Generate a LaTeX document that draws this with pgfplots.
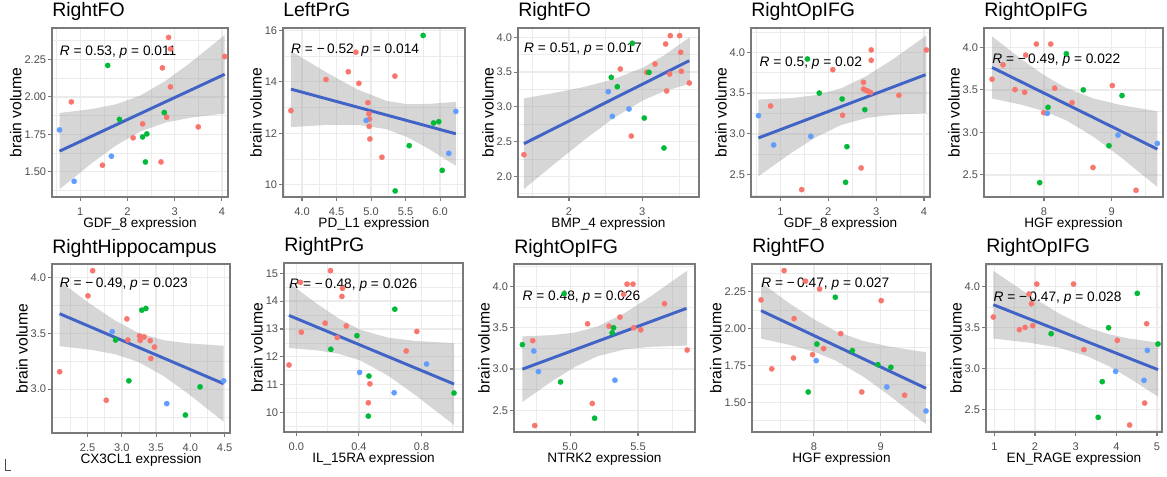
\documentclass[border=0pt]{standalone}
\usepackage{fontspec}
\setmainfont{Liberation Sans}
\usepackage{pgfplots}
\pgfplotsset{compat=1.18}
\definecolor{pR}{HTML}{F8766D}
\definecolor{pG}{HTML}{00BA38}
\definecolor{pB}{HTML}{619CFF}
\definecolor{lineB}{HTML}{4163C6}
\definecolor{bandc}{HTML}{999999}
\definecolor{gridc}{HTML}{EBEBEB}
\definecolor{framec}{HTML}{7A7A7A}
\definecolor{tickt}{HTML}{4D4D4D}
\pgfplotsset{
  panel/.style={
    scale only axis, anchor=south west,
    axis line style={draw=framec, line width=0.8pt},
    grid=both,
    major grid style={draw=gridc, line width=1.0pt},
    minor grid style={draw=gridc, line width=0.5pt},
    tick align=outside, tick pos=left,
    major tick length=2.75pt, minor tick length=0pt,
    tick style={draw=framec, line width=0.8pt},
    tick label style={font=\fontsize{8.3}{9}\selectfont, text=tickt},
    xticklabel style={inner sep=1.5pt, yshift=-3.5pt},
    yticklabel style={inner sep=1.5pt},
    xlabel style={font=\fontsize{10.2}{12}\selectfont, inner sep=0pt},
    ylabel style={font=\fontsize{11.8}{13}\selectfont, inner sep=0.5pt},
    ylabel={brain volume},
    title style={at={(0,1)}, anchor=base west, yshift=2.25pt, font=\fontsize{14.6}{16}\selectfont, inner sep=0pt},
    /pgf/number format/assume math mode=true,
  },
  pts/.style={only marks, mark=*, mark size=2pt, mark options={line width=0.2pt}},
  fitline/.style={lineB, line width=2.2pt},
  bandfill/.style={fill=bandc, fill opacity=0.4, draw=none},
}
\newcommand{\annot}[3]{\node[anchor=base west, inner sep=0pt, font=\fontsize{10.3}{12}\selectfont] at (axis cs:#1,#2) {#3};}
\begin{document}
\begin{tikzpicture}
\path[use as bounding box] (0pt,0pt) rectangle (875.25pt,-357.75pt);
\draw[black!70, line width=0.75pt] (4pt,-344pt) -- (4pt,-352.5pt) -- (8pt,-352.5pt);

% ---------------- Panel 1 ----------------
\begin{axis}[panel, at={(39pt,-147.75pt)}, width=132pt, height=126.75pt,
  xmin=0.40, xmax=4.13, ymin=1.332, ymax=2.46,
  xtick={1,2,3,4}, xticklabels={1,2,3,4}, minor xtick={0.5,1.5,2.5,3.5},
  ytick={1.5,1.75,2,2.25}, yticklabels={1.50,1.75,2.00,2.25}, minor ytick={1.375,1.625,1.875,2.125,2.375},
  title={RightFO}, xlabel={GDF\_8 expression}]
\addplot[pts, pR] coordinates {(0.81,1.967) (1.47,1.544) (2.12,1.727) (2.32,1.82) (2.71,1.566) (2.74,2.194) (2.87,2.397) (2.91,2.321) (2.91,2.067) (2.83,1.865) (3.50,1.80) (4.06,2.27)};
\addplot[pts, pG] coordinates {(1.58,2.21) (1.83,1.85) (2.32,1.733) (2.41,1.753) (2.38,1.566) (2.78,1.896)};
\addplot[pts, pB] coordinates {(0.56,1.78) (0.87,1.437) (1.66,1.604)};
\addplot[bandfill] coordinates {(0.56,1.893) (1.244,1.919) (1.757,1.951) (2.27,2.009) (2.807,2.107) (3.344,2.231) (4.06,2.413)
  (4.06,1.889) (3.344,1.862) (2.807,1.829) (2.27,1.769) (1.757,1.676) (1.244,1.558) (0.56,1.384)} -- cycle;
\addplot[fitline] coordinates {(0.56,1.638) (4.06,2.151)};
\annot{0.56}{2.277}{\textit{R} = 0.53, \textit{p} = 0.011}
\end{axis}

% ---------------- Panel 2 ----------------
\begin{axis}[panel, at={(212.25pt,-147.75pt)}, width=136.5pt, height=126.75pt,
  xmin=3.725, xmax=6.36, ymin=9.525, ymax=16.09,
  xtick={4,4.5,5,5.5,6}, xticklabels={4.0,4.5,5.0,5.5,6.0}, minor xtick={3.75,4.25,4.75,5.25,5.75,6.25},
  ytick={10,12,14,16}, yticklabels={10,12,14,16}, minor ytick={11,13,15},
  title={LeftPrG}, xlabel={PD\_L1 expression}]
\addplot[pts, pR] coordinates {(3.84,12.88) (4.347,14.09) (4.67,14.39) (4.78,15.15) (4.824,13.94) (4.954,13.19) (4.969,12.76) (4.978,12.55) (4.973,12.27) (4.983,11.78) (5.157,11.07) (5.345,14.22)};
\addplot[pts, pG] coordinates {(5.754,15.80) (5.552,11.52) (5.349,9.76) (5.904,12.40) (5.98,12.45) (6.03,10.56)};
\addplot[pts, pB] coordinates {(4.93,12.50) (6.227,12.85) (6.125,11.22)};
\addplot[bandfill] coordinates {(3.84,15.19) (4.393,14.30) (4.807,13.70) (5.222,13.26) (5.524,13.13) (5.825,13.14) (6.227,13.22)
  (6.227,10.74) (5.825,11.41) (5.524,11.85) (5.222,12.16) (4.807,12.33) (4.393,12.33) (3.84,12.24)} -- cycle;
\addplot[fitline] coordinates {(3.84,13.715) (6.227,11.98)};
\annot{3.84}{15.11}{\textit{R} = −\,0.52, \textit{p} = 0.014}
\end{axis}

% ---------------- Panel 3 ----------------
\begin{axis}[panel, at={(388.5pt,-147.75pt)}, width=135.75pt, height=126.75pt,
  xmin=1.305, xmax=3.773, ymin=1.703, ymax=4.134,
  xtick={2,3}, xticklabels={2,3}, minor xtick={1.5,2.5,3.5},
  ytick={2,2.5,3,3.5,4}, yticklabels={2.0,2.5,3.0,3.5,4.0}, minor ytick={1.75,2.25,2.75,3.25,3.75},
  title={RightFO}, xlabel={BMP\_4 expression}]
\addplot[pts, pR] coordinates {(1.386,2.312) (2.70,3.544) (2.85,2.58) (3.059,3.496) (3.173,3.616) (3.318,3.904) (3.382,4.024) (3.509,4.024) (3.332,3.228) (3.373,3.472) (3.523,3.784) (3.532,3.511) (3.641,3.343)};
\addplot[pts, pG] coordinates {(2.577,3.424) (2.659,3.29) (2.864,3.914) (3.027,2.839) (3.091,3.496) (3.295,2.408)};
\addplot[pts, pB] coordinates {(2.536,3.218) (2.591,2.863) (2.818,2.969)};
\addplot[bandfill] coordinates {(1.386,3.122) (1.8,3.200) (2.2,3.285) (2.6,3.394) (3.011,3.565) (3.3,3.742) (3.65,4.004)
  (3.65,3.334) (3.3,3.224) (3.011,3.095) (2.6,2.832) (2.2,2.517) (1.8,2.178) (1.386,1.818)} -- cycle;
\addplot[fitline] coordinates {(1.386,2.47) (3.641,3.664)};
\annot{1.386}{3.784}{\textit{R} = 0.51, \textit{p} = 0.017}
\end{axis}

% ---------------- Panel 4 ----------------
\begin{axis}[panel, at={(563.25pt,-147.75pt)}, width=134.25pt, height=126.75pt,
  xmin=0.386, xmax=4.126, ymin=2.226, ymax=4.298,
  xtick={1,2,3,4}, xticklabels={1,2,3,4}, minor xtick={0.5,1.5,2.5,3.5},
  ytick={2.5,3,3.5,4}, yticklabels={2.5,3.0,3.5,4.0}, minor ytick={2.25,2.75,3.25,3.75,4.25},
  title={RightOpIFG}, xlabel={GDF\_8 expression}]
\addplot[pts, pR] coordinates {(0.795,3.342) (1.445,2.316) (2.094,3.787) (2.299,3.228) (2.687,2.582) (2.736,3.632) (2.736,3.55) (2.786,3.534) (2.835,3.522) (2.884,3.506) (2.898,4.029) (2.898,3.902) (3.477,3.473) (4.049,4.029)};
\addplot[pts, pG] coordinates {(1.565,3.918) (1.812,3.50) (2.29,3.428) (2.39,2.843) (2.362,2.406) (2.764,3.297)};
\addplot[pts, pB] coordinates {(0.541,3.224) (0.859,2.864) (1.635,2.970)};
\addplot[bandfill] coordinates {(0.541,3.42) (1.233,3.438) (1.751,3.476) (2.27,3.559) (2.804,3.711) (3.338,3.909) (4.05,4.206)
  (4.05,3.254) (3.338,3.234) (2.804,3.195) (2.27,3.109) (1.751,2.962) (1.233,2.769) (0.541,2.48)} -- cycle;
\addplot[fitline] coordinates {(0.541,2.95) (4.034,3.726)};
\annot{0.56}{3.828}{\textit{R} = 0.5, \textit{p} = 0.02}
\end{axis}

% ---------------- Panel 5 ----------------
\begin{axis}[panel, at={(738pt,-147.75pt)}, width=134.25pt, height=126.75pt,
  xmin=7.113, xmax=9.759, ymin=2.24, ymax=4.228,
  xtick={8,9}, xticklabels={8,9}, minor xtick={7.5,8.5,9.5},
  ytick={2.5,3,3.5,4}, yticklabels={2.5,3.0,3.5,4.0}, minor ytick={2.25,2.75,3.25,3.75},
  title={RightOpIFG}, xlabel={HGF expression}]
\addplot[pts, pR] coordinates {(7.232,3.626) (7.394,3.795) (7.571,3.504) (7.714,3.472) (7.729,3.909) (7.887,4.039) (8.099,4.039) (8.158,3.52) (7.995,3.232) (8.414,3.35) (9.01,3.551) (8.724,2.587) (9.36,2.319)};
\addplot[pts, pG] coordinates {(8.33,3.925) (8.059,3.295) (7.936,2.409) (8.581,3.50) (9.153,3.433) (8.96,2.843)};
\addplot[pts, pB] coordinates {(8.049,3.224) (9.094,2.968) (9.675,2.87)};
\addplot[bandfill] coordinates {(7.232,4.13) (7.669,3.859) (7.996,3.675) (8.324,3.524) (8.729,3.40) (9.135,3.322) (9.675,3.248)
  (9.675,2.358) (9.135,2.708) (8.729,2.95) (8.324,3.144) (7.996,3.251) (7.669,3.325) (7.232,3.398)} -- cycle;
\addplot[fitline] coordinates {(7.232,3.764) (9.675,2.803)};
\annot{7.232}{3.815}{\textit{R} = −\,0.49, \textit{p} = 0.022}
\end{axis}

% ---------------- Panel 6 ----------------
\begin{axis}[panel, at={(39pt,-324.75pt)}, width=133.5pt, height=126.75pt,
  xmin=1.98, xmax=4.578, ymin=2.608, ymax=4.12,
  xtick={2.5,3,3.5,4,4.5}, xticklabels={2.5,3.0,3.5,4.0,4.5}, minor xtick={2.25,2.75,3.25,3.75,4.25},
  ytick={3,3.5,4}, yticklabels={3.0,3.5,4.0}, minor ytick={2.75,3.25,3.75},
  title={RightHippocampus}, xlabel={CX3CL1 expression}]
\addplot[pts, pR] coordinates {(2.092,3.156) (2.505,3.835) (2.573,4.06) (2.772,2.901) (3.073,3.629) (3.087,3.44) (3.257,3.476) (3.267,3.437) (3.325,3.467) (3.413,3.434) (3.476,3.377) (3.422,3.275)};
\addplot[pts, pG] coordinates {(2.908,3.44) (3.102,3.075) (3.291,3.707) (3.35,3.722) (3.927,2.769) (4.141,3.021)};
\addplot[pts, pB] coordinates {(2.859,3.515) (3.655,2.871) (4.485,3.075)};
\addplot[bandfill] coordinates {(2.092,3.965) (2.55,3.758) (2.894,3.617) (3.237,3.505) (3.611,3.438) (3.986,3.409) (4.485,3.389)
  (4.485,2.709) (3.986,2.951) (3.611,3.117) (3.237,3.245) (2.894,3.314) (2.55,3.352) (2.092,3.385)} -- cycle;
\addplot[fitline] coordinates {(2.092,3.675) (4.485,3.049)};
\annot{2.092}{3.91}{\textit{R} = −\,0.49, \textit{p} = 0.023}
\end{axis}

% ---------------- Panel 7 ----------------
\begin{axis}[panel, at={(213pt,-324pt)}, width=134.25pt, height=126.75pt,
  xmin=-0.079, xmax=1.065, ymin=9.30, ymax=15.37,
  xtick={0,0.4,0.8}, xticklabels={0.0,0.4,0.8}, minor xtick={0.2,0.6,1.0},
  ytick={10,11,12,13,14,15}, yticklabels={10,11,12,13,14,15}, minor ytick={9.5,10.5,11.5,12.5,13.5,14.5},
  title={RightPrG}, xlabel={IL\_15RA expression}]
\addplot[pts, pR] coordinates {(-0.047,11.707) (0.0257,14.675) (0.032,12.885) (0.218,15.096) (0.184,13.21) (0.261,12.69) (0.295,14.46) (0.291,14.17) (0.319,13.11) (0.47,11.03) (0.46,10.35) (0.702,12.21) (0.77,12.91)};
\addplot[pts, pG] coordinates {(0.22,12.27) (0.387,12.76) (0.464,11.31) (0.46,9.87) (0.629,13.71) (1.0075,10.70)};
\addplot[pts, pB] coordinates {(0.404,11.44) (0.625,10.71) (0.832,11.74)};
\addplot[bandfill] coordinates {(-0.047,14.656) (0.1356,13.888) (0.2726,13.37) (0.4095,12.969) (0.5889,12.685) (0.7683,12.566) (1.0075,12.492)
  (1.0075,9.552) (0.7683,10.594) (0.5889,11.314) (0.4095,11.869) (0.2726,12.108) (0.1356,12.23) (-0.047,12.316)} -- cycle;
\addplot[fitline] coordinates {(-0.047,13.486) (1.0075,11.022)};
\annot{-0.047}{14.47}{\textit{R} = −\,0.48, \textit{p} = 0.026}
\end{axis}

% ---------------- Panel 8 ----------------
\begin{axis}[panel, at={(385.5pt,-324pt)}, width=135.75pt, height=126pt,
  xmin=4.586, xmax=5.92, ymin=2.236, ymax=4.273,
  xtick={5,5.5}, xticklabels={5.0,5.5}, minor xtick={4.75,5.25,5.75},
  ytick={2.5,3,3.5,4}, yticklabels={2.5,3.0,3.5,4.0}, minor ytick={2.25,2.75,3.25,3.75,4.25},
  title={RightOpIFG}, xlabel={NTRK2 expression}]
\addplot[pts, pR] coordinates {(4.724,3.344) (4.739,2.314) (5.128,3.548) (5.163,2.582) (5.286,3.519) (5.367,3.629) (5.394,3.906) (5.419,4.029) (5.463,4.029) (5.468,3.50) (5.52,3.475) (5.695,3.792) (5.862,3.23)};
\addplot[pts, pG] coordinates {(4.648,3.295) (4.929,2.843) (4.956,3.914) (5.18,2.403) (5.32,3.50) (5.31,3.438)};
\addplot[pts, pB] coordinates {(4.732,3.218) (4.766,2.969) (5.33,2.864)};
\addplot[bandfill] coordinates {(4.648,3.395) (4.869,3.411) (5.034,3.442) (5.2,3.514) (5.399,3.675) (5.597,3.885) (5.862,4.192)
  (5.862,3.284) (5.597,3.269) (5.399,3.237) (5.2,3.154) (5.034,3.024) (4.869,2.855) (4.648,2.601)} -- cycle;
\addplot[fitline] coordinates {(4.648,2.998) (5.857,3.735)};
\annot{4.648}{3.825}{\textit{R} = 0.48, \textit{p} = 0.026}
\end{axis}

% ---------------- Panel 9 ----------------
\begin{axis}[panel, at={(564pt,-324pt)}, width=134.25pt, height=126pt,
  xmin=7.075, xmax=9.75, ymin=1.298, ymax=2.44,
  xtick={8,9}, xticklabels={8,9}, minor xtick={7.5,8.5,9.5},
  ytick={1.5,1.75,2,2.25}, yticklabels={1.50,1.75,2.00,2.25}, minor ytick={1.375,1.625,1.875,2.125,2.375},
  title={RightFO}, xlabel={HGF expression}]
\addplot[pts, pR] coordinates {(7.21,2.196) (7.555,2.395) (7.875,2.323) (8.085,2.27) (9.005,2.191) (7.705,2.069) (8.40,1.967) (8.145,1.865) (7.98,1.824) (7.695,1.801) (7.37,1.727) (8.715,1.57) (9.355,1.548)};
\addplot[pts, pG] coordinates {(8.32,2.214) (8.045,1.896) (8.575,1.851) (8.955,1.756) (9.15,1.738) (7.915,1.57)};
\addplot[pts, pB] coordinates {(8.035,1.783) (9.09,1.604) (9.675,1.441)};
\addplot[bandfill] coordinates {(7.21,2.313) (7.656,2.166) (7.99,2.067) (8.324,1.984) (8.729,1.918) (9.135,1.878) (9.675,1.84)
  (9.675,1.351) (9.135,1.544) (8.729,1.677) (8.324,1.784) (7.99,1.845) (7.656,1.888) (7.21,1.933)} -- cycle;
\addplot[fitline] coordinates {(7.21,2.123) (9.675,1.595)};
\annot{7.21}{2.277}{\textit{R} = −\,0.47, \textit{p} = 0.027}
\end{axis}

% ---------------- Panel 10 ----------------
\begin{axis}[panel, at={(739.5pt,-324pt)}, width=132pt, height=126pt,
  xmin=0.795, xmax=5.123, ymin=2.229, ymax=4.272,
  xtick={1,2,3,4,5}, xticklabels={1,2,3,4,5}, minor xtick={1.5,2.5,3.5,4.5},
  ytick={2.5,3,3.5,4}, yticklabels={2.5,3.0,3.5,4.0}, minor ytick={2.25,2.75,3.25,3.75,4.25},
  title={RightOpIFG}, xlabel={EN\_RAGE expression}]
\addplot[pts, pR] coordinates {(0.975,3.627) (1.616,3.473) (1.756,3.501) (1.945,3.522) (1.854,3.907) (1.912,3.789) (2.043,4.028) (2.947,4.028) (3.201,3.23) (4.023,3.343) (4.326,2.314) (4.745,3.546) (4.696,2.581)};
\addplot[pts, pG] coordinates {(2.396,3.424) (3.809,3.497) (3.653,2.841) (3.554,2.407) (4.515,3.915) (5.025,3.299)};
\addplot[pts, pB] coordinates {(3.982,2.966) (4.762,3.222) (4.68,2.857)};
\addplot[bandfill] coordinates {(0.975,4.188) (1.902,3.880) (2.597,3.668) (3.292,3.50) (3.812,3.418) (4.332,3.364) (5.025,3.316)
  (5.025,2.659) (4.332,2.88) (3.812,3.03) (3.292,3.15) (2.597,3.253) (1.902,3.312) (0.975,3.366)} -- cycle;
\addplot[fitline] coordinates {(0.975,3.777) (5.025,2.987)};
\annot{0.975}{3.818}{\textit{R} = −\,0.47, \textit{p} = 0.028}
\end{axis}
\end{tikzpicture}
\end{document}
